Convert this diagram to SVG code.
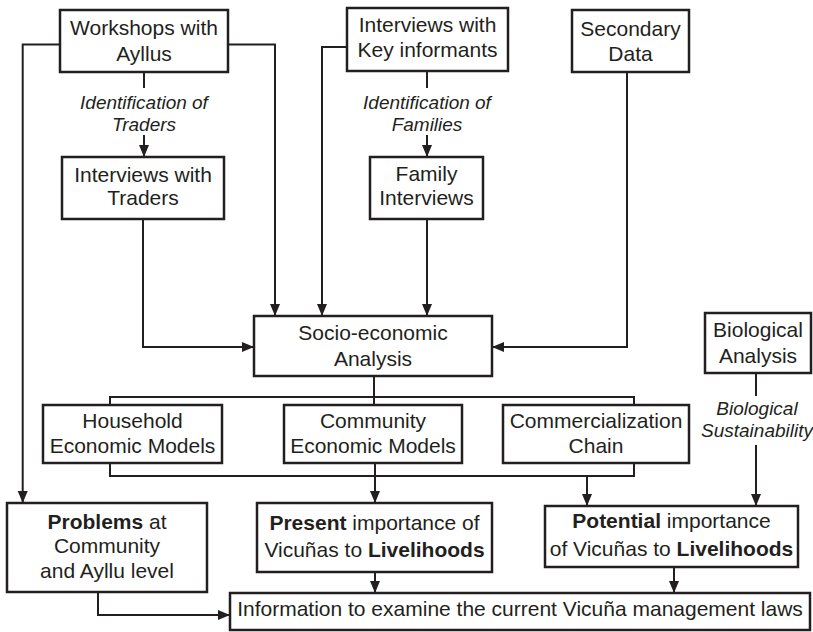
<svg xmlns="http://www.w3.org/2000/svg" width="813" height="632" viewBox="0 0 813 632">
  <style>
    .box { fill: #fff; stroke: #231f20; stroke-width: 2.5; }
    .ln { fill: none; stroke: #231f20; stroke-width: 2; }
    .arr { marker-end: url(#head); }
    text { font-family: "Liberation Sans", Arial, Helvetica, sans-serif; font-size: 21px; fill: #231f20; text-anchor: middle; }
    .it { font-style: italic; font-size: 19px; }
    .b { font-weight: bold; }
  </style>
  <defs>
    <marker id="head" markerUnits="userSpaceOnUse" markerWidth="12" markerHeight="12" viewBox="0 0 12 12" refX="12" refY="6" orient="auto">
      <path d="M0,1 L12,6 L0,11 Z" fill="#231f20"/>
    </marker>
  </defs>
  <rect width="813" height="632" fill="#fff"/>

  <!-- connectors -->
  <g id="connectors">
    <path class="ln arr" d="M60,44.5 H22.7 V503"/>
    <path class="ln arr" d="M228,44.5 H275 V316"/>
    <path class="ln" d="M144,72 V88"/>
    <path class="ln arr" d="M144,135 V157"/>
    <path class="ln arr" d="M347,47 H322 V316"/>
    <path class="ln" d="M427,71 V88"/>
    <path class="ln arr" d="M427,135 V157"/>
    <path class="ln arr" d="M143,219 V347 H254"/>
    <path class="ln arr" d="M427,219 V316"/>
    <path class="ln arr" d="M627,72 V347 H492"/>
    <path class="ln" d="M110,405 V397 H634 V405"/>
    <path class="ln" d="M374,376 V405"/>
    <path class="ln" d="M756,373 V396"/>
    <path class="ln arr" d="M756,445 V506"/>
    <path class="ln" d="M110,463 V476 H634 V463"/>
    <path class="ln arr" d="M375,463 V503"/>
    <path class="ln arr" d="M587,476 V506"/>
    <path class="ln arr" d="M98,592 V615 H230"/>
    <path class="ln arr" d="M375,572 V593"/>
    <path class="ln arr" d="M674,567 V593"/>
    <text class="it" x="144" y="109">Identification of</text>
    <text class="it" x="144" y="131">Traders</text>
    <text class="it" x="427" y="109">Identification of</text>
    <text class="it" x="427" y="131">Families</text>
    <text class="it" x="757" y="415">Biological</text>
    <text class="it" x="757" y="437">Sustainability</text>
  </g>

  <g id="workshops">
    <rect class="box" x="60" y="10" width="168" height="62"/>
    <text x="144" y="35">Workshops with</text>
    <text x="144" y="61">Ayllus</text>
  </g>
  <g id="key-informants">
    <rect class="box" x="347" y="8" width="161" height="63"/>
    <text x="427.5" y="32">Interviews with</text>
    <text x="427.5" y="57">Key informants</text>
  </g>
  <g id="secondary-data">
    <rect class="box" x="572" y="10" width="117" height="62"/>
    <text x="630.5" y="36">Secondary</text>
    <text x="630.5" y="61">Data</text>
  </g>
  <g id="traders">
    <rect class="box" x="62" y="157" width="162" height="62"/>
    <text x="143" y="182">Interviews with</text>
    <text x="143" y="205">Traders</text>
  </g>
  <g id="family-interviews">
    <rect class="box" x="370" y="157" width="113" height="62"/>
    <text x="426.5" y="181">Family</text>
    <text x="426.5" y="205">Interviews</text>
  </g>
  <g id="socio-economic">
    <rect class="box" x="254" y="316" width="238" height="60"/>
    <text x="373" y="340">Socio-economic</text>
    <text x="373" y="366">Analysis</text>
  </g>
  <g id="biological">
    <rect class="box" x="705" y="313" width="106" height="60"/>
    <text x="758" y="337">Biological</text>
    <text x="758" y="363">Analysis</text>
  </g>
  <g id="household">
    <rect class="box" x="43" y="405" width="179" height="58"/>
    <text x="132.5" y="428">Household</text>
    <text x="132.5" y="453">Economic Models</text>
  </g>
  <g id="community">
    <rect class="box" x="284" y="405" width="178" height="58"/>
    <text x="373" y="428">Community</text>
    <text x="373" y="453">Economic Models</text>
  </g>
  <g id="commercialization">
    <rect class="box" x="503" y="405" width="186" height="58"/>
    <text x="596" y="428">Commercialization</text>
    <text x="596" y="453">Chain</text>
  </g>
  <g id="problems">
    <rect class="box" x="7" y="503" width="200" height="89"/>
    <text x="107" y="529"><tspan class="b">Problems</tspan> at</text>
    <text x="107" y="553">Community</text>
    <text x="107" y="578">and Ayllu level</text>
  </g>
  <g id="present">
    <rect class="box" x="257" y="503" width="235" height="69"/>
    <text x="374.5" y="530"><tspan class="b">Present</tspan> importance of</text>
    <text x="374.5" y="557">Vicuñas to <tspan class="b">Livelihoods</tspan></text>
  </g>
  <g id="potential">
    <rect class="box" x="545" y="506" width="253" height="61"/>
    <text x="671.5" y="528"><tspan class="b">Potential</tspan> importance</text>
    <text x="671.5" y="556">of Vicuñas to <tspan class="b">Livelihoods</tspan></text>
  </g>
  <g id="information">
    <rect class="box" x="230" y="593" width="580" height="37"/>
    <text x="520" y="616">Information to examine the current Vicuña management laws</text>
  </g>
</svg>
